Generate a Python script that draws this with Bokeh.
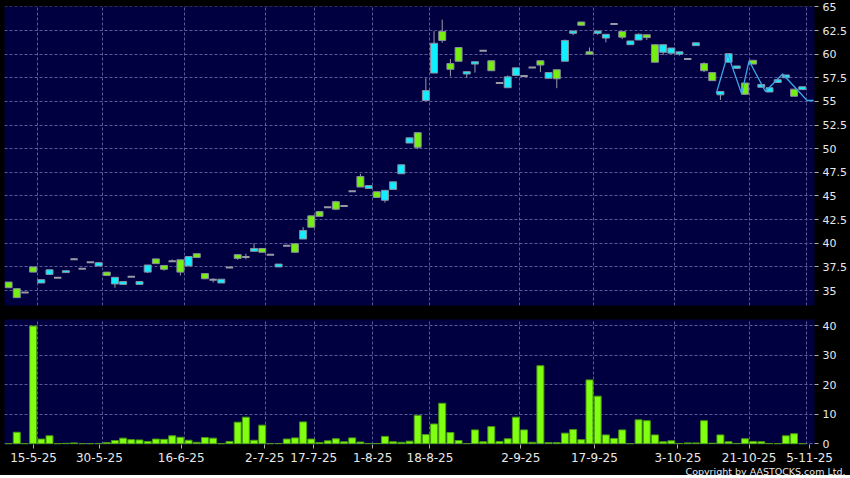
from bokeh.plotting import figure
from bokeh.layouts import column
from bokeh.models import ColumnDataSource, FixedTicker, Range1d, Title
from bokeh.embed import file_html
from bokeh.resources import INLINE

# ---------------- data ----------------
opens = [35.9, 35.2, 34.8, 37.5, 35.8, 36.7, 36.35, 36.9, 38.3, 37.3,
         38.0, 37.6, 36.95, 35.7, 35.65, 36.45, 35.65, 36.95, 38.35, 37.65,
         38.1, 38.25, 37.6, 38.9, 36.8, 36.15, 35.8, 37.45, 38.8, 38.55,
         39.15, 39.45, 38.8, 37.5, 39.75, 39.95, 40.45, 42.9, 43.35, 43.8,
         44.4, 43.95, 45.5, 47.05, 45.8, 45.45, 44.55, 45.7, 47.35, 50.6,
         51.7, 55.1, 58.0, 62.4, 59.0, 60.7, 57.9, 58.95, 60.35, 59.3,
         56.95, 56.45, 57.75, 57.7, 58.6, 59.3, 57.45, 58.35, 59.25, 62.2,
         63.4, 60.25, 62.2, 61.7, 63.2, 62.4, 61.0, 61.5, 62.05, 61.0,
         60.2, 60.1, 60.0, 59.5, 60.9, 59.0, 58.05, 55.7, 59.15, 58.5,
         56.95, 59.35, 56.5, 56.0, 57.0, 57.5, 56.3, 56.25]
closes = [35.3, 34.25, 34.8, 36.95, 36.15, 37.2, 36.35, 37.1, 38.3, 37.3,
          38.0, 37.95, 36.6, 36.4, 35.95, 36.45, 35.95, 37.7, 37.85, 37.25,
          38.1, 36.95, 38.6, 38.5, 36.25, 36.15, 36.2, 37.45, 38.4, 38.55,
          39.45, 39.05, 38.8, 37.8, 39.75, 39.05, 41.35, 41.7, 42.85, 43.8,
          43.6, 43.95, 45.5, 45.95, 46.1, 44.85, 45.6, 46.5, 48.3, 51.15,
          50.15, 56.15, 61.15, 61.45, 58.4, 59.25, 58.15, 59.2, 60.35, 58.25,
          56.95, 57.6, 58.55, 57.7, 58.6, 58.85, 58.05, 57.4, 61.45, 62.45,
          63.05, 60.0, 62.45, 62.1, 63.2, 61.8, 61.4, 62.1, 61.75, 59.15,
          61.0, 60.65, 60.25, 59.5, 61.2, 58.25, 57.2, 56.05, 60.05, 58.75,
          55.75, 58.95, 56.8, 56.45, 57.3, 57.8, 55.55, 56.55]
highs = [35.9, 35.2, 34.8, 37.5, 36.15, 37.2, 36.35, 37.1, 38.45, 37.3,
         38.0, 37.95, 36.95, 36.4, 35.95, 36.45, 35.95, 37.7, 38.35, 37.65,
         38.3, 38.25, 38.6, 38.9, 36.8, 36.3, 36.2, 37.45, 38.8, 38.9,
         40.0, 39.5, 38.8, 37.8, 39.75, 39.95, 41.7, 42.9, 43.35, 43.8,
         44.5, 43.95, 45.5, 47.35, 46.1, 45.45, 45.6, 46.5, 48.3, 51.15,
         51.7, 57.45, 62.45, 63.65, 59.5, 60.7, 58.15, 59.2, 60.35, 59.3,
         56.95, 57.75, 58.55, 57.7, 58.6, 59.3, 58.05, 58.35, 61.55, 62.45,
         63.4, 60.7, 62.45, 62.1, 63.2, 62.4, 61.4, 62.2, 62.05, 61.0,
         61.0, 60.65, 60.25, 59.5, 61.2, 59.15, 58.05, 56.05, 60.05, 58.75,
         56.95, 59.35, 56.8, 56.45, 57.3, 57.8, 56.3, 56.55]
lows = [35.3, 34.25, 34.8, 36.95, 35.8, 36.7, 36.35, 36.9, 38.3, 37.3,
        38.0, 37.6, 36.6, 35.3, 35.65, 36.45, 35.65, 36.85, 37.85, 37.1,
        38.1, 36.6, 37.6, 38.5, 36.2, 35.85, 35.8, 37.45, 38.25, 38.3,
        39.15, 39.05, 38.8, 37.5, 39.75, 39.0, 40.45, 41.7, 42.85, 43.8,
        43.5, 43.95, 45.5, 45.95, 45.8, 44.85, 44.3, 45.7, 47.35, 50.6,
        49.95, 55.1, 58.0, 61.2, 57.65, 59.25, 57.5, 58.05, 60.35, 58.25,
        56.95, 56.45, 57.75, 57.7, 58.6, 58.1, 57.45, 56.4, 59.25, 62.0,
        63.05, 60.0, 62.05, 61.25, 63.2, 61.6, 61.0, 61.5, 61.5, 59.15,
        59.9, 60.1, 59.85, 59.5, 60.9, 58.1, 57.2, 55.15, 59.15, 58.5,
        55.75, 58.95, 56.5, 56.0, 57.0, 57.5, 55.55, 56.25]
volumes = [0, 3.9, 0, 39.8, 1.6, 2.7, 0, 0.15, 0.3, 0,
           0, 0.1, 0.4, 1.1, 1.9, 1.4, 1.3, 0.8, 1.6, 1.5,
           2.7, 2.2, 1.2, 0.5, 2.1, 1.9, 0, 0.8, 7.3, 9.0,
           1.2, 6.3, 0, 0.1, 1.6, 2.0, 7.4, 1.6, 0.4, 1.0,
           1.7, 0.7, 2.0, 0.6, 0.1, 0.1, 2.5, 0.7, 0.5, 0.9,
           9.6, 3.1, 6.7, 13.7, 3.8, 1.1, 0.05, 4.7, 0.7, 5.8,
           0.8, 1.7, 9.0, 4.7, 0.5, 26.4, 0.4, 0.4, 3.6, 4.8,
           1.4, 21.6, 16.1, 3.0, 1.8, 4.7, 0, 8.1, 7.8, 3.0,
           0.7, 1.0, 0.1, 0.3, 0.3, 7.8, 0.2, 3.0, 0.7, 0.1,
           1.7, 0.8, 0.7, 0.1, 0, 2.7, 3.4, 0]
days = list(range(len(opens)))

line_x = [86.5, 87.9, 89.6, 90.5, 92.5, 94.6, 97.6, 98.4]
line_y = [55.85, 60.0, 55.8, 59.3, 56.05, 57.9, 55.1, 55.1]

date_ticks = [3.05, 11.1, 21.1, 31.3, 37.3, 44.5, 51.5, 62.6, 71.6, 81.8, 90.5, 97.9]
date_labels = ["15-5-25", "30-5-25", "16-6-25", "2-7-25", "17-7-25", "1-8-25",
               "18-8-25", "2-9-25", "17-9-25", "3-10-25", "21-10-25", "5-11-25"]
grid_days = [3.5, 11.5, 21.5, 31.4, 37.4, 44.5, 51.5, 62.5, 71.5, 81.4, 90.5, 97.5]

price_ticks = [35, 37.5, 40, 42.5, 45, 47.5, 50, 52.5, 55, 57.5, 60, 62.5, 65]
price_labels = ["35", "37.5", "40", "42.5", "45", "47.5", "50", "52.5", "55",
                "57.5", "60", "62.5", "65"]
vol_ticks = [0, 10, 20, 30, 40]
vol_labels = ["0", "10", "20", "30", "40"]

# ---------------- styles ----------------
BG = "#000040"
GRID = "#5a5a96"
TXT = "#e8e8e8"
UP = "#11eeff"
DOWN = "#77ee11"
FLAT = "#9a9aa6"
EDGE = "#8a90a0"
FONT = "DejaVu Sans"

rows = {"x": [], "top": [], "bot": [], "fill": []}
flat = {"x": [], "y": []}
for d, o, c in zip(days, opens, closes):
    if o == c:
        flat["x"].append(d)
        flat["y"].append(o)
    else:
        rows["x"].append(d)
        rows["top"].append(max(o, c))
        rows["bot"].append(min(o, c))
        rows["fill"].append(UP if c > o else DOWN)
wick = ColumnDataSource(dict(x=days, hi=highs, lo=lows))
box = ColumnDataSource(rows)
flat_src = ColumnDataSource(flat)


def style_common(p):
    p.background_fill_color = BG
    p.border_fill_color = "black"
    p.outline_line_color = None
    p.yaxis.axis_line_color = None
    p.yaxis.major_tick_line_color = "#b0b0b0"
    p.yaxis.major_tick_out = 4
    p.yaxis.major_tick_in = 0
    p.yaxis.minor_tick_line_color = None
    p.yaxis.major_label_text_color = TXT
    p.yaxis.major_label_text_font = FONT
    p.yaxis.major_label_text_font_size = "11px"
    p.yaxis.major_label_standoff = 4
    p.ygrid.grid_line_color = GRID
    p.ygrid.grid_line_dash = "3 2"
    p.xgrid.ticker = FixedTicker(ticks=grid_days)
    p.xgrid.grid_line_color = GRID
    p.xgrid.grid_line_dash = "3 2"


# ---------------- price panel ----------------
xr = Range1d(-0.5, 98.5)
p1 = figure(frame_width=810, frame_height=299, x_range=xr, y_range=Range1d(33.42, 65.04),
            y_axis_location="right", toolbar_location=None,
            output_backend="svg", min_border_left=4, min_border_right=36,
            min_border_top=6, min_border_bottom=7)
p1.xaxis.visible = False
style_common(p1)
p1.yaxis.ticker = FixedTicker(ticks=price_ticks)
p1.yaxis.major_label_overrides = dict(zip(price_ticks, price_labels))

p1.segment(x0="x", y0="lo", x1="x", y1="hi", source=wick, color=FLAT, line_width=1)
p1.vbar(x="x", top="top", bottom="bot", width=0.85, source=box,
        fill_color="fill", line_color=EDGE, line_width=1)
p1.rect(x="x", y="y", width=0.9, height=2, height_units="screen", source=flat_src,
        fill_color=FLAT, line_color=None)
p1.line(line_x, line_y, color="#3ea6e8", line_width=1.3)

# ---------------- volume panel ----------------
p2 = figure(frame_width=810, frame_height=125, x_range=xr, y_range=Range1d(-0.24, 42.03),
            y_axis_location="right", toolbar_location=None, output_backend="svg",
            min_border_left=4, min_border_right=36, min_border_top=7, min_border_bottom=0)
style_common(p2)
p2.yaxis.ticker = FixedTicker(ticks=vol_ticks)
p2.yaxis.major_label_overrides = dict(zip(vol_ticks, vol_labels))
p2.xaxis.ticker = FixedTicker(ticks=date_ticks)
p2.xaxis.major_label_overrides = dict(zip(date_ticks, date_labels))
p2.xaxis.axis_line_color = None
p2.xaxis.major_tick_line_color = "#b0b0b0"
p2.xaxis.major_tick_out = 4
p2.xaxis.major_tick_in = 0
p2.xaxis.minor_tick_line_color = None
p2.xaxis.major_label_text_color = TXT
p2.xaxis.major_label_text_font = FONT
p2.xaxis.major_label_text_font_size = "12px"
p2.xaxis.major_label_standoff = 4

p2.vbar(x=days, top=volumes, bottom=0, width=0.85, fill_color="#80ff11",
        line_color="#4c9a10", line_width=1)

p2.add_layout(Title(text="Copyright by AASTOCKS.com Ltd.", align="right",
                    text_color=TXT, text_font=FONT, text_font_size="9.5px",
                    text_font_style="normal", offset=-31, standoff=-2), "below")

layout = column(p1, p2, spacing=0, background="black")
open("out.html", "w").write(file_html(layout, INLINE))
